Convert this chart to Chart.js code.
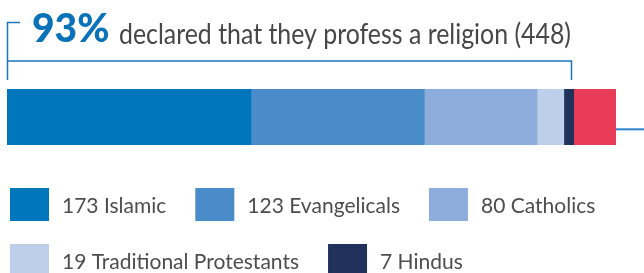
<!DOCTYPE html>
<html>
<head>
<meta charset="utf-8">
<script src="https://cdn.jsdelivr.net/npm/chart.js@4.4.1/dist/chart.umd.min.js"></script>
<style>
    html, body { margin: 0; padding: 0; background: #ffffff; }
    #wrap { width: 644px; height: 273px; position: relative; }
</style>
</head>
<body>
<div id="wrap"><canvas id="chart"></canvas></div>
<script>
const religionLabels = ["Islamic", "Evangelicals", "Catholics", "Traditional Protestants", "Hindus", "No religion"];
const religionCounts = [173, 123, 80, 19, 7, 30];
const religionColors = ["#0077BD", "#4A8CC9", "#8DAEDC", "#BDCFEB", "#20325B", "#E83C59"];
const legendCount = 5;
const headlinePct = "93%";
const headlineText = "declared that they profess a religion (448)";

const total = religionCounts.reduce((a, b) => a + b, 0);
const religiousTotal = religionCounts.slice(0, legendCount).reduce((a, b) => a + b, 0);

const FONT = "Lato, 'Open Sans', sans-serif";

const decorPlugin = {
    id: "decor",
    afterDraw(chart) {
        const ctx = chart.ctx;
        const xs = chart.scales.x;
        const area = chart.chartArea;
        ctx.save();

        // headline
        ctx.textBaseline = "alphabetic";
        ctx.fillStyle = "#0A72B8";
        ctx.font = "900 39px " + FONT;
        ctx.fillText(headlinePct, 32, 42, 78);
        ctx.fillStyle = "#474747";
        ctx.font = "400 28px " + FONT;
        ctx.fillText(headlineText, 119, 43.5, 452);

        // bracket over the religious part
        const bx0 = Math.round(xs.getPixelForValue(0)) + 0.5;
        const bx1 = Math.round(xs.getPixelForValue(religiousTotal)) - 2.5;
        ctx.strokeStyle = "#1B76BC";
        ctx.lineWidth = 1.5;
        ctx.beginPath();
        ctx.moveTo(20, 22.5);
        ctx.lineTo(bx0, 22.5);
        ctx.lineTo(bx0, 80);
        ctx.moveTo(bx0, 61);
        ctx.lineTo(bx1, 61);
        ctx.lineTo(bx1, 80);
        ctx.stroke();

        // connector line leaving the bar on the right
        const ex = xs.getPixelForValue(total);
        const ly = area.top + (area.bottom - area.top) * 0.72;
        ctx.strokeStyle = "#2A82C8";
        ctx.lineWidth = 2;
        ctx.beginPath();
        ctx.moveTo(ex, ly);
        ctx.lineTo(chart.width, ly);
        ctx.stroke();

        // legend
        ctx.font = "400 21px " + FONT;
        ctx.textBaseline = "alphabetic";
        let x = 10;
        let rowTop = 188;
        for (let i = 0; i < legendCount; i++) {
            const txt = religionCounts[i] + " " + religionLabels[i];
            const w = ctx.measureText(txt).width;
            const itemW = 39 + 13 + w;
            if (x > 10 && x + itemW > chart.width - 10) {
                x = 10;
                rowTop += 56;
            }
            ctx.fillStyle = religionColors[i];
            ctx.fillRect(x, rowTop, 39, 33);
            ctx.fillStyle = "#4D4D4D";
            ctx.fillText(txt, x + 52, rowTop + 24.5);
            x += itemW + 29;
        }
        ctx.restore();
    }
};

const ctx = document.getElementById("chart").getContext("2d");

new Chart(ctx, {
    type: "bar",
    data: {
        labels: [""],
        datasets: religionLabels.map((label, i) => ({
            label: label,
            data: [religionCounts[i]],
            backgroundColor: religionColors[i],
            borderWidth: 0,
            barPercentage: 1,
            categoryPercentage: 1
        }))
    },
    options: {
        indexAxis: "y",
        responsive: true,
        maintainAspectRatio: false,
        animation: false,
        layout: {
            padding: { left: 7, right: 28, top: 89, bottom: 128 }
        },
        scales: {
            x: {
                stacked: true,
                display: false,
                min: 0,
                max: total
            },
            y: {
                stacked: true,
                display: false
            }
        },
        plugins: {
            legend: { display: false },
            tooltip: { enabled: false }
        }
    },
    plugins: [decorPlugin]
});
</script>
</body>
</html>
